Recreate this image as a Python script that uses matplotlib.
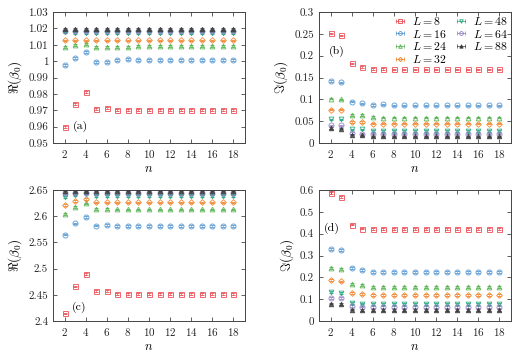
import numpy as np
import matplotlib
matplotlib.use("Agg")
import matplotlib.pyplot as plt
from matplotlib.lines import Line2D
from matplotlib.legend_handler import HandlerLine2D, HandlerTuple
from matplotlib.ticker import MultipleLocator, FuncFormatter

plt.rcParams["font.family"] = "serif"
plt.rcParams["font.serif"] = ["cmr10"]
plt.rcParams["mathtext.fontset"] = "cm"
plt.rcParams["axes.formatter.use_mathtext"] = True

# 数据：n = 2..18
n = np.arange(2, 19)
L_vals = [8, 16, 24, 32, 48, 64, 88]

re_a = {
    8:  [0.9598, 0.9741, 0.9811, 0.9709, 0.9713] + [0.9700] * 12,
    16: [0.9977, 1.0021, 1.0054, 0.9993, 0.9997, 1.0009, 1.0011, 1.0009,
         1.0009, 1.0005, 1.0005, 1.0007, 1.0007, 1.0007, 1.0007, 1.0007, 1.0007],
    24: [1.0085, 1.0101, 1.0107, 1.0087, 1.0087, 1.0089, 1.0089] + [1.0095] * 10,
    32: [1.0126] * 17,
    48: [1.0175] + [1.0172] * 16,
    64: [1.0181] * 17,
    88: [1.0199] * 17,
}

im_b = {
    8:  [0.2515, 0.2462, 0.1825, 0.1741, 0.1695, 0.1695] + [0.1687] * 11,
    16: [0.1419, 0.1388, 0.0943, 0.0905, 0.0867, 0.0882] + [0.0859] * 11,
    24: [0.1012, 0.0997, 0.0644, 0.0644, 0.0598] + [0.0583] * 12,
    32: [0.0767, 0.0767, 0.0483, 0.0483] + [0.0445] * 13,
    48: [0.0544, 0.0544, 0.0314, 0.0314] + [0.0276] * 13,
    64: [0.0406, 0.0406, 0.0230] + [0.0215] * 14,
    88: [0.0345, 0.0330, 0.0192, 0.0176] + [0.0153] * 13,
}

re_c = {
    8:  [2.4147, 2.4659, 2.4895, 2.4575, 2.4575] + [2.4518] * 12,
    16: [2.5650, 2.5861, 2.5988, 2.5822, 2.5829] + [2.5816] * 12,
    24: [2.6046, 2.6174, 2.6244, 2.6136, 2.6136] + [2.6129] * 12,
    32: [2.6219, 2.6289, 2.6327] + [2.6265] * 14,
    48: [2.6366, 2.6398, 2.6430] + [2.6385] * 14,
    64: [2.6435, 2.6440, 2.6445] + [2.6442] * 14,
    88: [2.6487] * 17,
}

im_d = {
    8:  [0.5877, 0.5693, 0.4419, 0.4235] + [0.4220] * 13,
    16: [0.3314, 0.3268, 0.2424, 0.2332] + [0.2256] * 13,
    24: [0.2424, 0.2378, 0.1703, 0.1642] + [0.1565] * 13,
    32: [0.1887, 0.1811, 0.1274, 0.1243] + [0.1182] * 13,
    48: [0.1320, 0.1289, 0.0829, 0.0798] + [0.0783] * 13,
    64: [0.1059, 0.1059, 0.0690, 0.0660] + [0.0629] * 13,
    88: [0.0798, 0.0783, 0.0522] + [0.0491] * 14,
}

colors = {8: "#e8424a", 16: "#4a90cf", 24: "#4fb04a", 32: "#f07d1e",
          48: "#1ea27c", 64: "#8e7cc3", 88: "#3a3a3a"}
markers = {8: "s", 16: "o", 24: "^", 32: "D", 48: "v", 64: "o", 88: "^"}
msize = {8: 3.6, 16: 3.6, 24: 3.4, 32: 2.9, 48: 3.4, 64: 3.6, 88: 3.2}
filled = {88}

panels = [
    ("a", re_a, (0.95, 1.03), 0.01, r"$\Re(\beta_0)$", 0.0006, (3.5, 0.960)),
    ("b", im_b, (0.0, 0.3), 0.05, r"$\Im(\beta_0)$", 0.0015, (2.55, 0.209)),
    ("c", re_c, (2.4, 2.65), 0.05, r"$\Re(\beta_0)$", 0.0015, (3.4, 2.4256)),
    ("d", im_d, (0.0, 0.6), 0.1, r"$\Im(\beta_0)$", 0.004, (2.1, 0.4235)),
]
positions = {
    "a": [0.0996, 0.5983, 0.3609, 0.3680],
    "b": [0.5996, 0.5983, 0.3609, 0.3680],
    "c": [0.0996, 0.0983, 0.3609, 0.3680],
    "d": [0.5996, 0.0983, 0.3609, 0.3680],
}


def fmt(v, pos):
    return "%g" % round(v, 6)


fig = plt.figure(figsize=(5.32, 3.56), dpi=100)
fs = 8
spine_col = "#444444"

for tag, data, ylim, ystep, ylabel, err, lab_xy in panels:
    ax = fig.add_axes(positions[tag])
    for L in L_vals:
        c = colors[L]
        ax.errorbar(n, data[L], yerr=err, fmt=markers[L], color=c,
                    ms=msize[L], mew=0.7, mfc=c if L in filled else "none",
                    mec=c, elinewidth=0.5, capsize=1.2, capthick=0.5,
                    alpha=0.8, zorder=3)
    ax.set_xlim(0.9, 19.1)
    ax.set_ylim(*ylim)
    ax.xaxis.set_major_locator(MultipleLocator(2))
    ax.yaxis.set_major_locator(MultipleLocator(ystep))
    ax.yaxis.set_major_formatter(FuncFormatter(fmt))
    ax.tick_params(direction="in", top=True, right=True, length=3,
                   width=0.6, labelsize=fs, colors=spine_col,
                   labelcolor="#222222")
    for s in ax.spines.values():
        s.set_linewidth(0.7)
        s.set_color(spine_col)
    ax.set_xlabel(r"$n$", fontsize=9, labelpad=2)
    ax.set_ylabel(ylabel, fontsize=9.5, labelpad=3)
    ax.text(lab_xy[0], lab_xy[1], "(%s)" % tag, fontsize=fs + 0.5,
            ha="center", va="center")

    if tag == "b":
        handles, labels = [], []
        hmap = {}
        for L in L_vals:
            c = colors[L]
            h_bar = Line2D([], [], color=c, lw=0.5, marker="|", ms=3.0, mew=0.5)
            h_mk = Line2D([], [], ls="none", marker=markers[L], color=c,
                          ms=msize[L] * 0.75, mew=0.6,
                          mfc=c if L in filled else "none", mec=c)
            hmap[h_bar] = HandlerLine2D(numpoints=2)
            hmap[h_mk] = HandlerLine2D(numpoints=1)
            handles.append((h_bar, h_mk))
            labels.append(r"$L = %d$" % L)
        hmap[tuple] = HandlerTuple(ndivide=1)
        ax.legend(handles, labels, loc="upper right", ncol=2, frameon=False,
                  fontsize=fs + 0.5, handlelength=1.3, handletextpad=0.4,
                  columnspacing=0.5, labelspacing=0.05, borderaxespad=0.05,
                  borderpad=0.2, handler_map=hmap)

fig.savefig("out.png", dpi=100)
